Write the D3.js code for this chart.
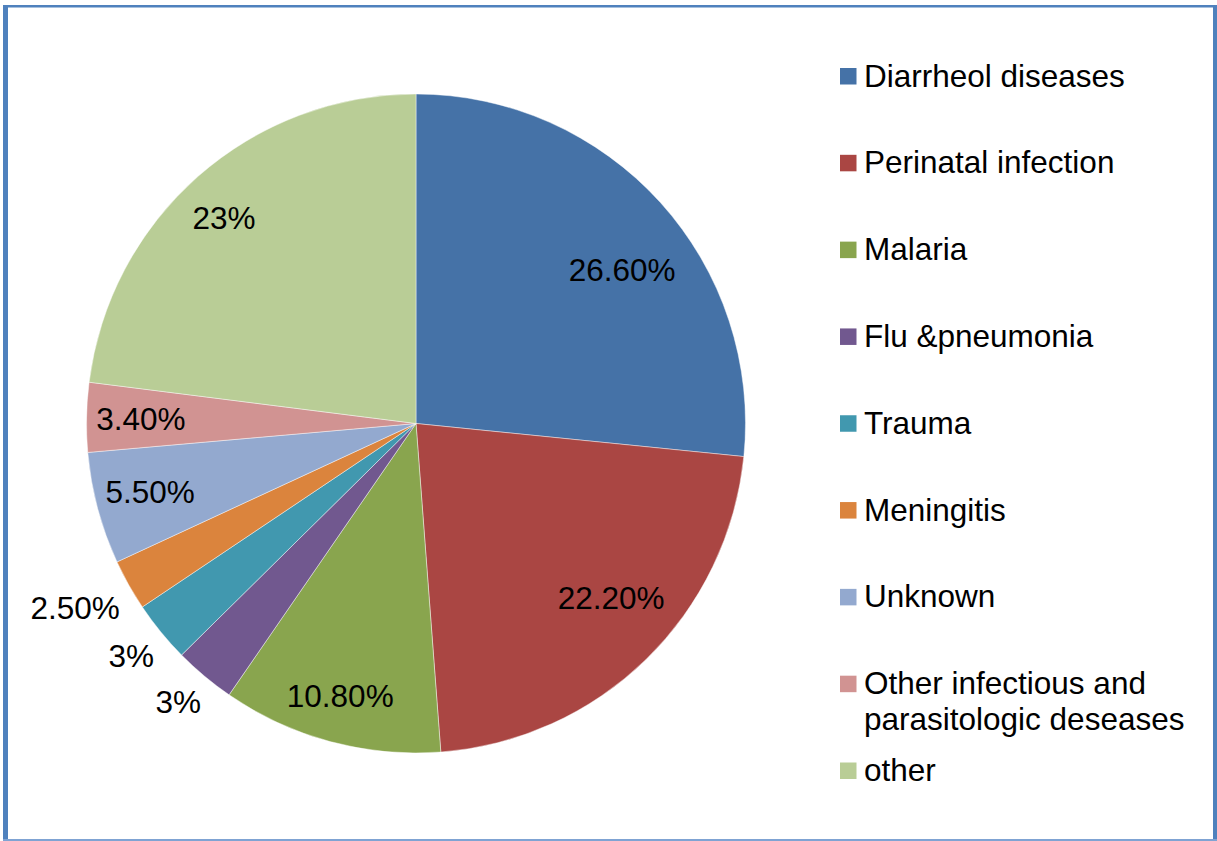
<!DOCTYPE html>
<html>
<head>
<meta charset="utf-8">
<script src="https://cdn.jsdelivr.net/npm/d3@7/dist/d3.min.js"></script>
<style>
  html, body { margin: 0; padding: 0; background: #fff; }
  svg { display: block; }
  text { font-family: Arial, "Liberation Sans", sans-serif; fill: #000; }
</style>
</head>
<body>
<svg id="chart" width="1217" height="841"></svg>
<script>
const categories = ["Diarrheol diseases", "Perinatal infection", "Malaria", "Flu &pneumonia",
  "Trauma", "Meningitis", "Unknown", "Other infectious and parasitologic deseases", "other"];
const legendLines = [["Diarrheol diseases"], ["Perinatal infection"], ["Malaria"], ["Flu &pneumonia"],
  ["Trauma"], ["Meningitis"], ["Unknown"], ["Other infectious and", "parasitologic deseases"], ["other"]];
const values = [26.6, 22.2, 10.8, 3, 3, 2.5, 5.5, 3.4, 23];
const valueLabels = ["26.60%", "22.20%", "10.80%", "3%", "3%", "2.50%", "5.50%", "3.40%", "23%"];
const colors = ["#4572A7", "#AA4643", "#89A54E", "#71588F", "#4198AF", "#DB843D", "#93A9CF", "#D19392", "#B9CD96"];
const outsideLabel = [false, false, false, true, true, true, false, false, false];

// layout-only fine placement of data labels (pixels), mimicking the source's best-fit placement
const labelNudge = [[2, 31], [3, -23], [-4, 7], [0, -6], [2, -2], [1, -8], [0, -3], [0, 0], [-10, 1]];

const svg = d3.select("#chart");

// frame
svg.append("rect").attr("x", 3).attr("y", 5).attr("width", 1214).attr("height", 2.5).attr("fill", "#4F81BD");
svg.append("rect").attr("x", 3).attr("y", 5).attr("width", 5).attr("height", 836).attr("fill", "#4F81BD");
svg.append("rect").attr("x", 1213).attr("y", 5).attr("width", 4).attr("height", 836).attr("fill", "#4F81BD");
svg.append("rect").attr("x", 3).attr("y", 839).attr("width", 1214).attr("height", 2).attr("fill", "#7FA3D3");

const cx = 416, cy = 423.5, R = 329.5;
const g = svg.append("g").attr("transform", `translate(${cx},${cy})`);

const pie = d3.pie().sort(null).value(d => d)(values);
const arc = d3.arc().innerRadius(0).outerRadius(R);

g.selectAll("path.slice").data(pie).join("path")
  .attr("class", "slice")
  .attr("d", arc)
  .attr("fill", (d, i) => colors[i])
  .attr("stroke", "rgba(255,255,255,0.55)")
  .attr("stroke-width", 0.8);

const fontSize = 31.5;
const measure = svg.append("text").attr("font-size", fontSize).attr("visibility", "hidden");
function textWidth(s) { measure.text(s); return measure.node().getComputedTextLength(); }

g.selectAll("text.lbl").data(pie).join("text")
  .attr("class", "lbl")
  .attr("font-size", fontSize)
  .attr("text-anchor", "middle")
  .attr("dy", "0.36em")
  .attr("transform", (d, i) => {
    const a = (d.startAngle + d.endAngle) / 2;
    const rr = outsideLabel[i] ? R + 18 + textWidth(valueLabels[i]) / 2 : R * 0.835;
    const x = Math.sin(a) * rr + labelNudge[i][0];
    const y = -Math.cos(a) * rr + labelNudge[i][1];
    return `translate(${x},${y})`;
  })
  .text((d, i) => valueLabels[i]);

measure.remove();

// legend
const legendY = d3.scaleLinear().domain([0, categories.length - 1]).range([76, 770.5]);
const lg = svg.append("g");
categories.forEach((c, i) => {
  const y = legendY(i);
  lg.append("rect").attr("x", 840).attr("y", y - 8).attr("width", 16.5).attr("height", 16.5).attr("fill", colors[i]);
  legendLines[i].forEach((line, j) => {
    lg.append("text").attr("x", 864).attr("y", y + 10.5 + j * 35.5)
      .attr("font-size", fontSize).text(line);
  });
});
</script>
</body>
</html>
